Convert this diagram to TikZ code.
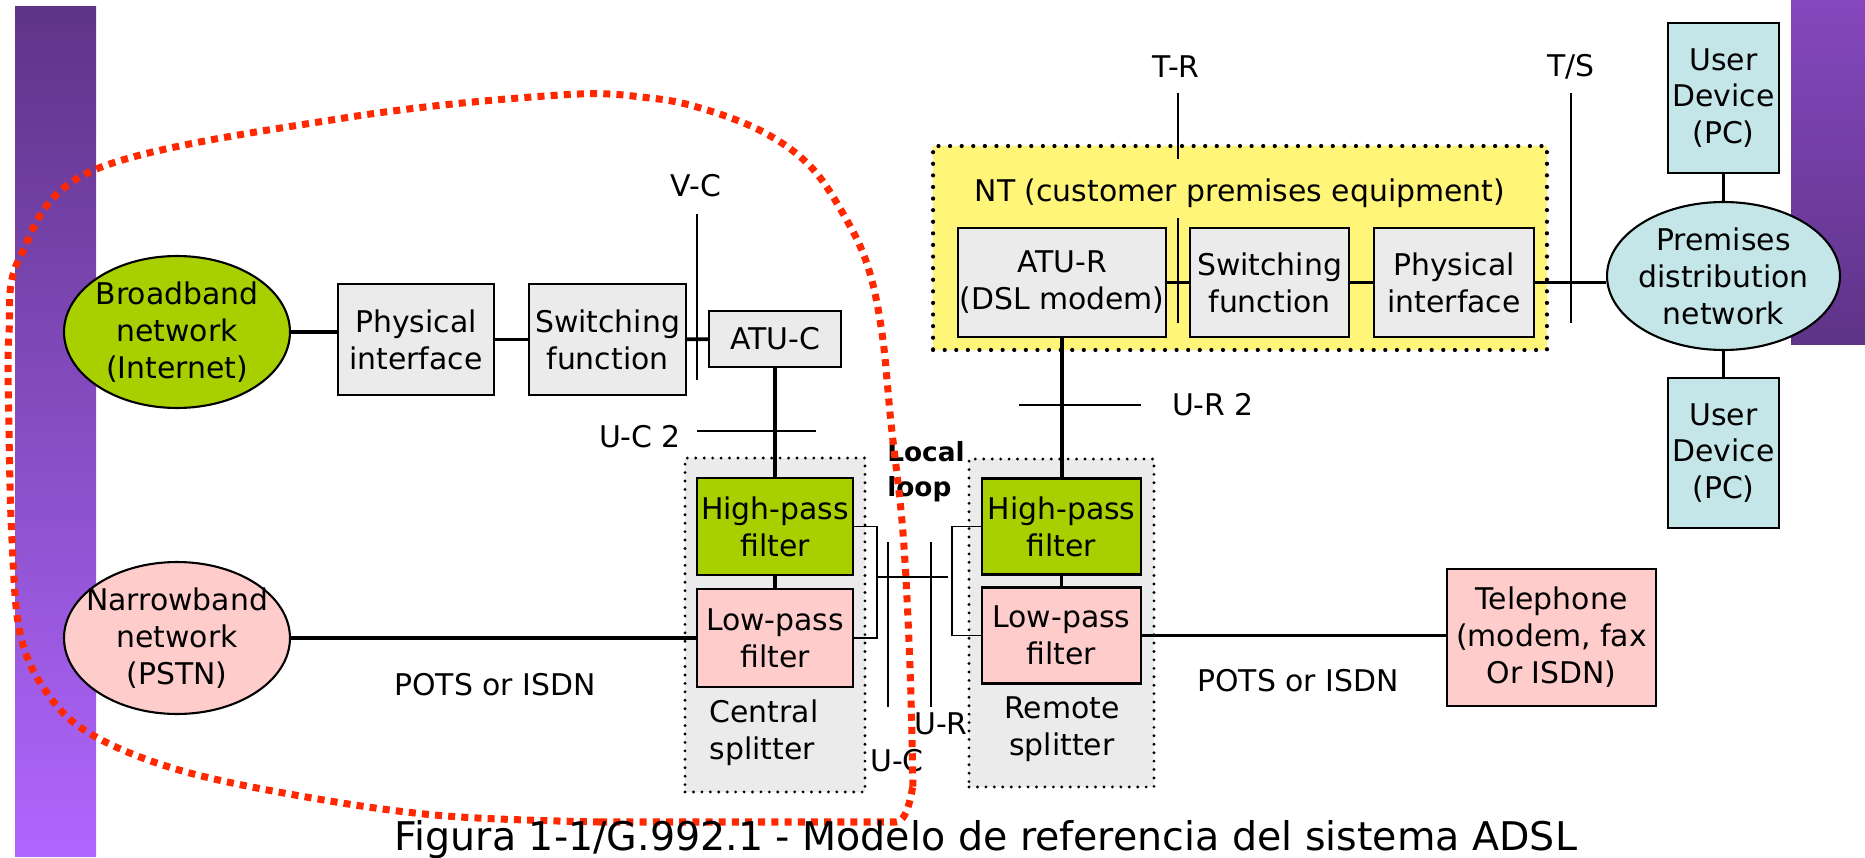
\documentclass[tikz,border=0pt]{standalone}
\usepackage{fontspec}
\setmainfont{DejaVu Sans}
\usetikzlibrary{shapes.geometric}

\definecolor{boxgray}{RGB}{235,235,235}
\definecolor{hpgreen}{RGB}{168,208,0}
\definecolor{lppink}{RGB}{255,204,204}
\definecolor{userblue}{RGB}{197,230,232}
\definecolor{ntyellow}{RGB}{255,245,120}
\definecolor{loopred}{RGB}{255,40,0}
\definecolor{barpurpleA}{RGB}{94,52,135}
\definecolor{barpurpleB}{RGB}{176,102,255}
\definecolor{barpurpleC}{RGB}{133,71,190}

\begin{document}
\begin{tikzpicture}[x=0.02cm, y=-0.02cm, font=\fontsize{17}{21}\selectfont,
        box/.style={draw, line width=1.2pt, fill=boxgray, inner sep=1pt, align=center},
        netell/.style={ellipse, draw, line width=1.2pt, inner xsep=-8pt, inner ysep=0pt, align=center},
        conn/.style={line width=2.2pt},
        refline/.style={line width=1pt},
        dotbox/.style={draw, fill=boxgray, line width=1.8pt, dash pattern=on 0pt off 4.8pt, line cap=round},
        redloop/.style={draw=loopred, line width=4pt, dash pattern=on 4pt off 3.5pt}]
        \useasboundingbox (0,0) rectangle (1865,858);
        \shade[top color=barpurpleA, bottom color=barpurpleB] (15,7) rectangle (96,856);
        \shade[top color=barpurpleC, bottom color=barpurpleA] (1791,0) rectangle (1865,344);

        % splitters and customer premises
        \node[dotbox, minimum width=3.6cm, minimum height=6.68cm] (splC) at (775,625) {};
        \node[dotbox, minimum width=3.7cm, minimum height=6.56cm] (splR) at (1061.5,623) {};
        \node[draw, fill=ntyellow, line width=2.4pt, dash pattern=on 0pt off 6.6pt, line cap=round,
              minimum width=12.28cm, minimum height=4.08cm] (nt) at (1240,248) {};

        \node[netell, fill=hpgreen, minimum width=4.52cm, minimum height=3.04cm] (bband) at (177,332) {Broadband\\network\\(Internet)};
        \node[netell, fill=lppink, minimum width=4.52cm, minimum height=3.04cm] (npstn) at (177,638) {Narrowband\\network\\(PSTN)};
        \node[box, minimum width=3.12cm, minimum height=2.22cm] (phyC) at (416,339.5) {Physical\\interface};
        \node[box, minimum width=3.14cm, minimum height=2.22cm] (swC) at (607.5,339.5) {Switching\\function};
        \node[box, minimum width=2.64cm, minimum height=1.12cm] (atuC) at (775,339) {ATU-C};
        \node[box, fill=hpgreen, minimum width=3.12cm, minimum height=1.94cm] (hpC) at (775,526.5) {High-pass\\filter};
        \node[box, fill=lppink, minimum width=3.12cm, minimum height=1.96cm] (lpC) at (775,638) {Low-pass\\filter};
        \node[box, fill=hpgreen, minimum width=3.18cm, minimum height=1.92cm] (hpR) at (1061.5,526.5) {High-pass\\filter};
        \node[box, fill=lppink, minimum width=3.18cm, minimum height=1.92cm] (lpR) at (1061.5,635.5) {Low-pass\\filter};
        \node[box, fill=lppink, minimum width=4.18cm, minimum height=2.74cm] (tel) at (1551.5,637.5) {Telephone\\(modem, fax\\Or ISDN)};
        \node[box, minimum width=4.16cm, minimum height=2.18cm] (atuR) at (1062,282.5) {ATU-R\\(DSL modem)};
        \node[box, minimum width=3.18cm, minimum height=2.18cm] (swR) at (1269.5,282.5) {Switching\\function};
        \node[box, minimum width=3.2cm, minimum height=2.18cm] (phyR) at (1454,282.5) {Physical\\interface};
        \node[netell, fill=userblue, minimum width=4.66cm, minimum height=2.96cm] (prem) at (1723.5,276) {Premises\\distribution\\network};
        \node[box, fill=userblue, minimum width=2.22cm, minimum height=3cm] (udevA) at (1723.5,98) {User\\Device\\(PC)};
        \node[box, fill=userblue, minimum width=2.22cm, minimum height=3cm] (udevB) at (1723.5,453) {User\\Device\\(PC)};

        \draw[conn] (bband.east) -- (bband.east -| phyC.west);
        \draw[conn] (phyC) -- (swC);
        \draw[conn] (swC) -- (atuC);
        \draw[conn] (atuC) -- (hpC);
        \draw[conn] (hpC) -- (lpC);
        \draw[conn] (npstn) -- (lpC);
        \draw[conn] (atuR.south) -- (atuR.south |- hpR.north);
        \draw[conn] (hpR) -- (lpR);
        \draw[conn] (lpR.east) -- (lpR.east -| tel.west);
        \draw[conn] (atuR) -- (swR);
        \draw[conn] (swR) -- (phyR);
        \draw[conn] (phyR.east) -- (phyR.east -| prem.west);
        \draw[conn] (prem) -- (udevA);
        \draw[conn] (prem) -- (udevB);

        % local loop
        \coordinate (loopC) at (876,577);
        \coordinate (loopR) at (948,577);
        \draw[refline] (hpC.east) -- ++(23,0) |- (lpC.east);
        \draw[refline] (hpR.west) -- ++(-29,0) |- (lpR.west);
        \draw[refline] (loopC) -- (loopR);
        \draw[refline] (888,542) -- (888,707);
        \draw[refline] (931,542) -- (931,707);

        % reference points
        \draw[refline] (697,214) -- (697,380);
        \draw[refline] (697,431) -- (816,431);
        \draw[refline] (1019,405) -- (1141,405);
        \draw[refline] (1178,93) -- (1178,159);
        \draw[refline] (1178,218) -- (1178,323);
        \draw[refline] (1571,93) -- (1571,323);

        \node (lvc) at (696,186) {V-C};
        \node (ltr) at (1176,67) {T-R};
        \node (lts) at (1571,67) {T/S};
        \node (luc2) at (640,437) {U-C 2};
        \node (lur2) at (1213,405) {U-R 2};
        \node (lpotsC) at (495,685) {POTS or ISDN};
        \node (lpotsR) at (1298,681) {POTS or ISDN};
        \node (lur) at (941,724) {U-R};
        \node (luc) at (897,761) {U-C};
        \node[align=left] (lcspl) at (764,733) {Central\\splitter};
        \node[align=center] (lrspl) at (1062,729) {Remote\\splitter};
        \node[anchor=base] (lnt) at (1240,202) {NT (customer premises equipment)};
        \node[font=\bfseries\fontsize{15}{20}\selectfont, align=left] (lloop) at (926,472) {Local\\loop};

        \draw[redloop] plot[smooth, tension=0.6] coordinates {(600,822) (446,816) (312,798) (179,770) (89,733) (45,690) (20,633) (12,540) (9,430) (9,333) (20,257) (94,170) (344,118) (560,95) (650,98) (707,110) (765,133) (811,167) (845,217) (868,267) (882,333) (891,423) (903,533) (910,667) (913,790)} to[out=90,in=0] (896,822) -- cycle;

        \node[anchor=base, font=\fontsize{22.5}{27}\selectfont] (cap) at (986,850) {Figura 1-1/G.992.1 - Modelo de referencia del sistema ADSL};
    \end{tikzpicture}
\end{document}
